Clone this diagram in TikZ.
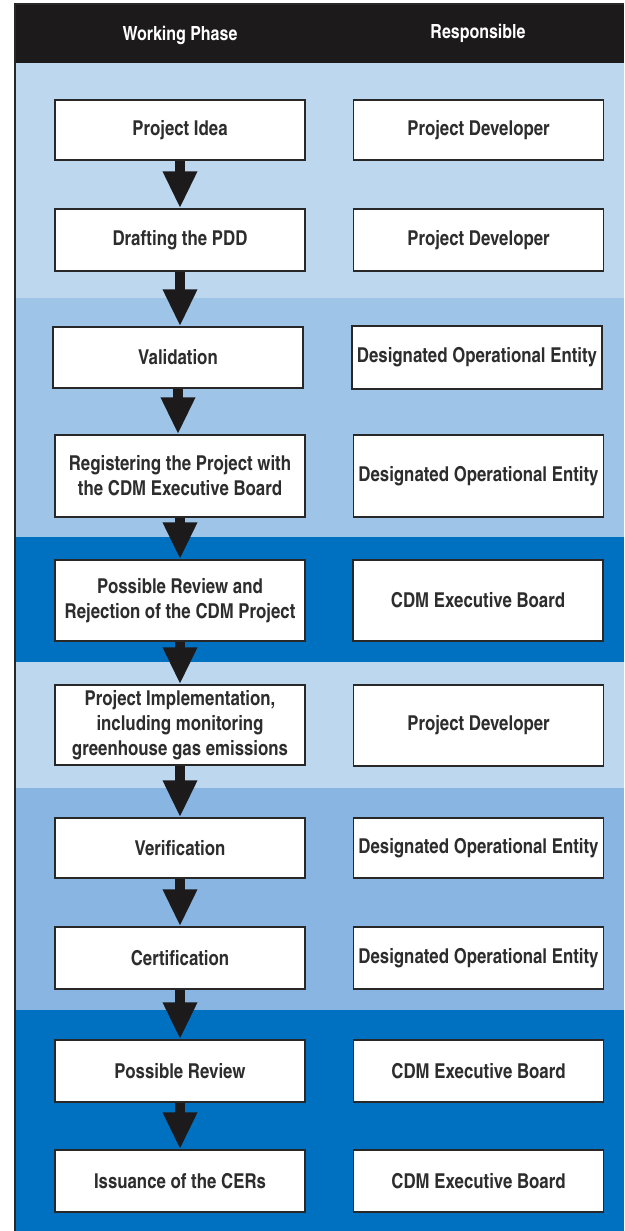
\documentclass[tikz,border=0pt]{standalone}
\usepackage{fontspec}
\setmainfont{TeX Gyre Heros Cn}
\usetikzlibrary{arrows.meta}
\definecolor{hdr}{RGB}{28,26,27}
\definecolor{bandA}{RGB}{189,215,239}
\definecolor{bandB}{RGB}{158,196,232}
\definecolor{bandC}{RGB}{0,113,192}
\definecolor{bandD}{RGB}{136,181,226}
\definecolor{boxline}{RGB}{40,40,40}
\definecolor{txt}{RGB}{45,45,45}
\tikzset{
  stepbox/.style={draw=boxline, line width=1.3pt, fill=white, text=txt, align=center,
    inner sep=1pt, minimum width=250pt, font=\fontsize{20.5}{25}\selectfont\bfseries},
  flowarrow/.style={draw=hdr, line width=10pt, -{Triangle[width=32pt,length=37pt]}},
  headtext/.style={text=white, font=\fontsize{19.5}{22}\selectfont\bfseries}
}
\begin{document}
\begin{tikzpicture}[x=1pt,y=-1pt]
\useasboundingbox (0,0) rectangle (624,1231);
\fill[white] (0,0) rectangle (624,1231);
% bands
\fill[bandA] (15,63) rectangle (624,298);
\fill[bandB] (15,298) rectangle (624,537);
\fill[bandC] (15,537) rectangle (624,662);
\fill[bandA] (15,662) rectangle (624,788);
\fill[bandD] (15,788) rectangle (624,1010);
\fill[bandC] (15,1010) rectangle (624,1231);
% header
\fill[hdr] (15,4) rectangle (624,63);
\draw[boxline, line width=1.2pt] (15,1231) -- (15,4) -- (624,4);
\node[headtext] (h1) at (180,35) {Working Phase};
\node[headtext] (h2) at (478,33) {Responsible};
% left column
\node[stepbox, minimum height=60pt] (l1) at (180,130) {Project Idea};
\node[stepbox, minimum height=62pt] (l2) at (180,240) {Drafting the PDD};
\node[stepbox, minimum height=61pt] (l3) at (178,357.5) {Validation};
\node[stepbox, minimum height=82pt] (l4) at (180,476) {Registering the Project with\\the CDM Executive Board};
\node[stepbox, minimum height=81pt] (l5) at (180,600.5) {Possible Review and\\Rejection of the CDM Project};
\node[stepbox, minimum height=80pt] (l6) at (180,725) {Project Implementation,\\including monitoring\\greenhouse gas emissions};
\node[stepbox, minimum height=60pt] (l7) at (180,848) {Verification};
\node[stepbox, minimum height=62pt] (l8) at (180,958) {Certification};
\node[stepbox, minimum height=62pt] (l9) at (180,1071) {Possible Review};
\node[stepbox, minimum height=62pt] (l10) at (180,1181) {Issuance of the CERs};
% right column
\node[stepbox, minimum height=60pt] (r1) at (478.5,130) {Project Developer};
\node[stepbox, minimum height=62pt] (r2) at (478.5,240) {Project Developer};
\node[stepbox, minimum height=63pt] (r3) at (477,357.5) {Designated Operational Entity};
\node[stepbox, minimum height=82pt] (r4) at (478.5,476) {Designated Operational Entity};
\node[stepbox, minimum height=81pt] (r5) at (478,600.5) {CDM Executive Board};
\node[stepbox, minimum height=81pt] (r6) at (478.5,725.5) {Project Developer};
\node[stepbox, minimum height=60pt] (r7) at (478.5,848) {Designated Operational Entity};
\node[stepbox, minimum height=62pt] (r8) at (478.5,958) {Designated Operational Entity};
\node[stepbox, minimum height=62pt] (r9) at (478.5,1071) {CDM Executive Board};
\node[stepbox, minimum height=62pt] (r10) at (478.5,1181) {CDM Executive Board};
% arrows
\foreach \a/\b in {l1/l2,l2/l3,l3/l4,l4/l5,l5/l6,l6/l7,l7/l8,l8/l9,l9/l10}{
  \draw[flowarrow] (\a.south) -- (\a.south |- \b.north);
}
\end{tikzpicture}
\end{document}
